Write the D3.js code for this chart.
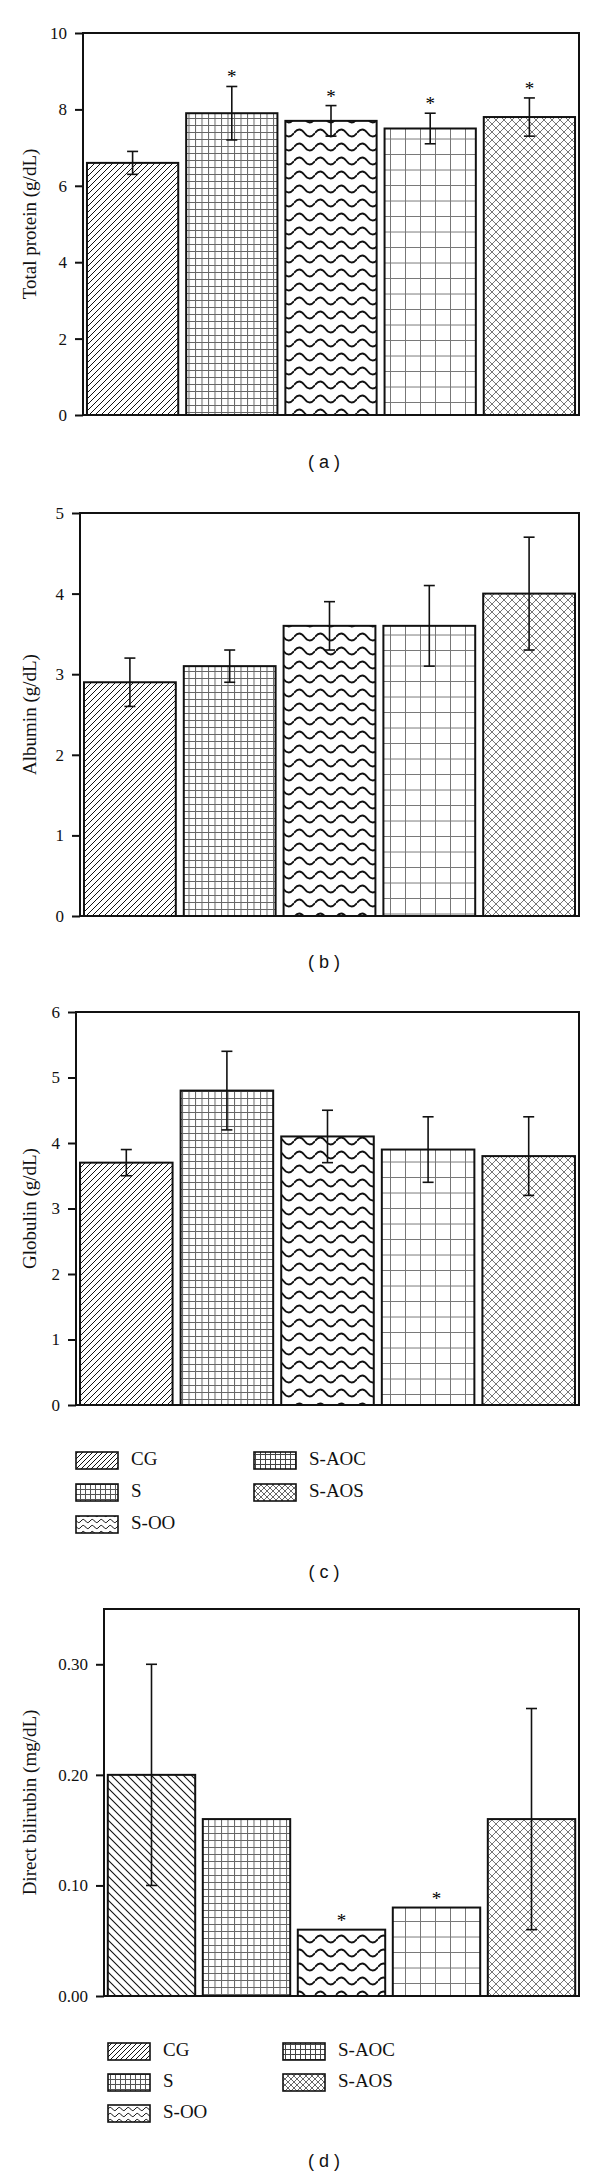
<!DOCTYPE html>
<html>
<head>
<meta charset="utf-8">
<script src="https://cdn.jsdelivr.net/npm/d3@7"></script>
<style>
  body { margin: 0; background: #fff; }
  svg { display: block; }
</style>
</head>
<body>
<svg id="chart" width="600" height="2176"></svg>
<script>
// groups, same order in every panel
var groups = ["CG", "S", "S-OO", "S-AOC", "S-AOS"];

// (a) total protein (g/dL)
var proteinMean = [6.6, 7.9, 7.7, 7.5, 7.8];
var proteinErr = [0.3, 0.7, 0.4, 0.4, 0.5];
var proteinStar = [false, true, true, true, true];
var proteinTicks = [0, 2, 4, 6, 8, 10];

// (b) albumin (g/dL)
var albuminMean = [2.9, 3.1, 3.6, 3.6, 4.0];
var albuminErr = [0.3, 0.2, 0.3, 0.5, 0.7];
var albuminStar = [false, false, false, false, false];
var albuminTicks = [0, 1, 2, 3, 4, 5];

// (c) globulin (g/dL)
var globulinMean = [3.7, 4.8, 4.1, 3.9, 3.8];
var globulinErr = [0.2, 0.6, 0.4, 0.5, 0.6];
var globulinStar = [false, false, false, false, false];
var globulinTicks = [0, 1, 2, 3, 4, 5, 6];

// (d) direct bilirubin (mg/dL)
var bilirubinMean = [0.20, 0.16, 0.06, 0.08, 0.16];
var bilirubinErr = [0.10, 0, 0, 0, 0.10];
var bilirubinStar = [false, false, true, true, false];
var bilirubinTicks = [0, 0.10, 0.20, 0.30];

var serif = "'Liberation Serif', 'Times New Roman', serif";
var sans = "'Liberation Sans', Arial, sans-serif";

var svg = d3.select("#chart");
var defs = svg.append("defs");

// hatch patterns ----------------------------------------------------------
function pattern(id, w, h, draw) {
    var p = defs.append("pattern")
        .attr("id", id)
        .attr("patternUnits", "userSpaceOnUse")
        .attr("width", w)
        .attr("height", h);
    p.append("rect").attr("width", w).attr("height", h).attr("fill", "#fff");
    draw(p, w, h);
}

function diag(p, w, h, col, sw, back) {
    var d = back
        ? "M0,0 L" + w + "," + h + " M" + (-w) + ",0 L" + w + "," + (2 * h) + " M0," + (-h) + " L" + (2 * w) + "," + h
        : "M0," + h + " L" + w + ",0 M" + (-w) + "," + h + " L" + w + "," + (-h) + " M0," + (2 * h) + " L" + (2 * w) + ",0";
    p.append("path").attr("d", d).attr("stroke", col).attr("stroke-width", sw).attr("fill", "none");
}

function grid(p, w, h, col, sw) {
    p.append("path")
        .attr("d", "M0.5,0 V" + h + " M0," + (h - 0.5) + " H" + w)
        .attr("stroke", col).attr("stroke-width", sw).attr("fill", "none");
}

function wave(p, w, h, amp, sw) {
    var m = h / 2;
    p.append("path")
        .attr("d", "M0," + m + " Q" + (w / 4) + "," + (m - 2 * amp) + " " + (w / 2) + "," + m +
                   " T" + w + "," + m)
        .attr("stroke", "#111").attr("stroke-width", sw).attr("fill", "none");
}

function cross(p, w, h, col, sw) {
    p.append("path")
        .attr("d", "M0,0 L" + w + "," + h + " M" + w + ",0 L0," + h)
        .attr("stroke", col).attr("stroke-width", sw).attr("fill", "none");
}

// bar fills
pattern("pCG", 6, 6, function(p, w, h) { diag(p, w, h, "#111", 1, false); });
pattern("pCGd", 8, 8, function(p, w, h) { diag(p, w, h, "#111", 1.1, true); });
pattern("pS", 6.5, 7, function(p, w, h) { grid(p, w, h, "#666", 1); });
pattern("pOO", 21, 14, function(p, w, h) { wave(p, w, h, 3.5, 1.8); });
pattern("pAOC", 15, 15.5, function(p, w, h) { grid(p, w, h, "#777", 1); });
pattern("pAOS", 8, 8, function(p, w, h) { cross(p, w, h, "#666", 0.9); });

// legend fills (smaller)
pattern("lCG", 5, 5, function(p, w, h) { diag(p, w, h, "#111", 1, false); });
pattern("lS", 5, 5, function(p, w, h) { grid(p, w, h, "#555", 1); });
pattern("lOO", 9, 6, function(p, w, h) { wave(p, w, h, 1.6, 1); });
pattern("lAOC", 5, 5, function(p, w, h) { grid(p, w, h, "#444", 1); });
pattern("lAOS", 6, 6, function(p, w, h) { cross(p, w, h, "#555", 0.9); });

var barFills = ["pCG", "pS", "pOO", "pAOC", "pAOS"];
var barFillsD = ["pCGd", "pS", "pOO", "pAOC", "pAOS"];
var legendFills = ["lCG", "lS", "lOO", "lAOC", "lAOS"];

// panels ------------------------------------------------------------------
var panels = [
    { mean: proteinMean, err: proteinErr, star: proteinStar, ticks: proteinTicks, ymax: 10,
      fmt: d3.format("d"), title: "Total protein (g/dL)", label: "( a )",
      left: 83, right: 579, top: 33, bottom: 415, labelY: 463, fills: barFills },
    { mean: albuminMean, err: albuminErr, star: albuminStar, ticks: albuminTicks, ymax: 5,
      fmt: d3.format("d"), title: "Albumin (g/dL)", label: "( b )",
      left: 80, right: 579, top: 513, bottom: 916, labelY: 963, fills: barFills },
    { mean: globulinMean, err: globulinErr, star: globulinStar, ticks: globulinTicks, ymax: 6,
      fmt: d3.format("d"), title: "Globulin (g/dL)", label: "( c )",
      left: 76, right: 579, top: 1012, bottom: 1405, labelY: 1573, fills: barFills,
      legend: { x: 76, y: 1452, col2: 254, rowGap: 32 } },
    { mean: bilirubinMean, err: bilirubinErr, star: bilirubinStar, ticks: bilirubinTicks, ymax: 0.35,
      fmt: d3.format(".2f"), title: "Direct bilirubin (mg/dL)", label: "( d )",
      left: 104, right: 579, top: 1609, bottom: 1996, labelY: 2162, fills: barFillsD,
      legend: { x: 108, y: 2043, col2: 283, rowGap: 31 } }
];

panels.forEach(drawPanel);

function drawPanel(p) {
    var x = d3.scaleBand()
        .domain(groups)
        .range([p.left, p.right])
        .paddingInner(0.08)
        .paddingOuter(0.04);
    var y = d3.scaleLinear()
        .domain([0, p.ymax])
        .range([p.bottom, p.top]);

    var g = svg.append("g");

    // bars
    g.selectAll(".bar")
        .data(p.mean)
      .enter().append("rect")
        .attr("class", "bar")
        .attr("x", function(d, i) { return x(groups[i]); })
        .attr("width", x.bandwidth())
        .attr("y", function(d) { return y(d); })
        .attr("height", function(d) { return p.bottom - y(d); })
        .attr("fill", function(d, i) { return "url(#" + p.fills[i] + ")"; })
        .attr("stroke", "#111")
        .attr("stroke-width", 2);

    // error bars
    var cap = 5.5;
    p.mean.forEach(function(m, i) {
        var e = p.err[i];
        var cx = x(groups[i]) + x.bandwidth() / 2;
        if (e > 0) {
            var eg = g.append("g").attr("stroke", "#111").attr("stroke-width", 1.6);
            eg.append("line").attr("x1", cx).attr("x2", cx).attr("y1", y(m - e)).attr("y2", y(m + e));
            eg.append("line").attr("x1", cx - cap).attr("x2", cx + cap).attr("y1", y(m + e)).attr("y2", y(m + e));
            eg.append("line").attr("x1", cx - cap).attr("x2", cx + cap).attr("y1", y(m - e)).attr("y2", y(m - e));
        }
        if (p.star[i]) {
            g.append("text")
                .attr("x", cx)
                .attr("y", y(m + e) - 3)
                .attr("text-anchor", "middle")
                .style("font-family", serif)
                .style("font-size", "19px")
                .text("*");
        }
    });

    // frame
    g.append("rect")
        .attr("x", p.left).attr("y", p.top)
        .attr("width", p.right - p.left).attr("height", p.bottom - p.top)
        .attr("fill", "none").attr("stroke", "#111").attr("stroke-width", 2);

    // y axis
    var yAxis = d3.axisLeft(y)
        .tickValues(p.ticks)
        .tickSize(8)
        .tickPadding(8)
        .tickFormat(p.fmt);
    var ax = g.append("g")
        .attr("transform", "translate(" + p.left + ",0)")
        .call(yAxis);
    ax.select(".domain").remove();
    ax.selectAll(".tick line").attr("stroke", "#111").attr("stroke-width", 2);
    ax.selectAll(".tick text")
        .style("font-family", serif)
        .style("font-size", "17px")
        .attr("fill", "#111");

    // y title
    g.append("text")
        .attr("transform", "translate(32," + ((p.top + p.bottom) / 2) + ") rotate(-90)")
        .attr("text-anchor", "middle")
        .attr("dominant-baseline", "middle")
        .style("font-family", serif)
        .style("font-size", "19px")
        .attr("fill", "#111")
        .text(p.title);

    // legend
    if (p.legend) {
        var L = p.legend;
        var lg = g.append("g");
        groups.forEach(function(name, i) {
            var col = i < 3 ? 0 : 1;
            var row = i < 3 ? i : i - 3;
            var bx = col === 0 ? L.x : L.col2;
            var by = L.y + row * L.rowGap;
            lg.append("rect")
                .attr("x", bx).attr("y", by)
                .attr("width", 42).attr("height", 17)
                .attr("fill", "url(#" + legendFills[i] + ")")
                .attr("stroke", "#111").attr("stroke-width", 1.6);
            lg.append("text")
                .attr("x", bx + 55).attr("y", by + 9)
                .attr("dominant-baseline", "middle")
                .style("font-family", serif)
                .style("font-size", "19px")
                .attr("fill", "#111")
                .text(name);
        });
    }

    // panel label
    svg.append("text")
        .attr("x", 324)
        .attr("y", p.labelY)
        .attr("text-anchor", "middle")
        .attr("dominant-baseline", "middle")
        .style("font-family", sans)
        .style("font-size", "18px")
        .attr("fill", "#111")
        .text(p.label);
}
</script>
</body>
</html>
